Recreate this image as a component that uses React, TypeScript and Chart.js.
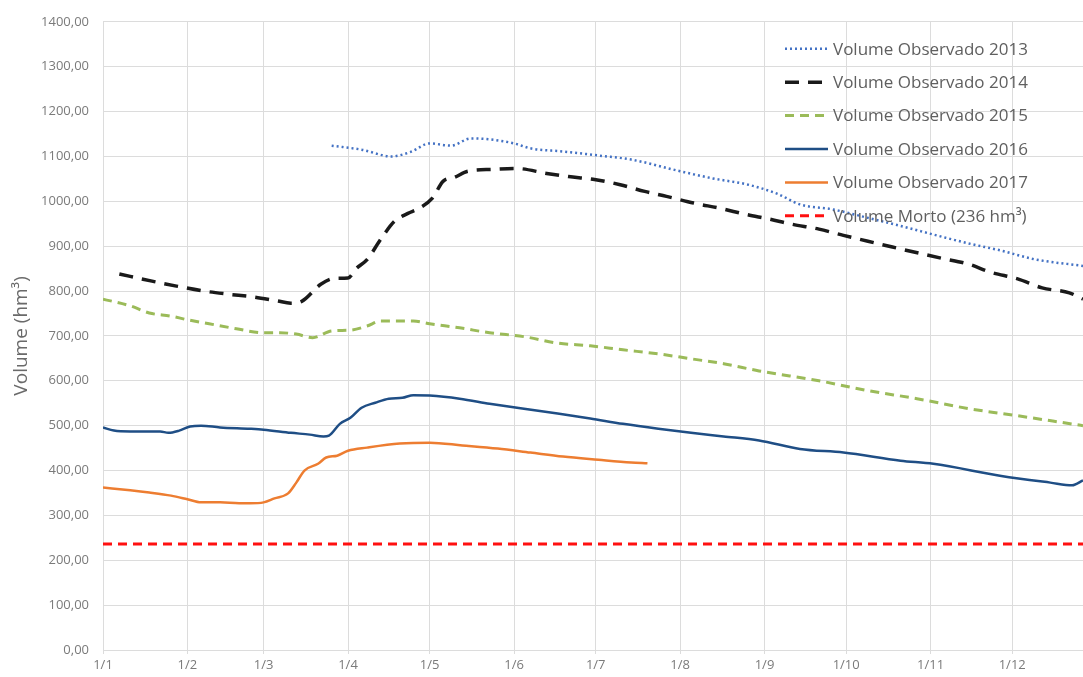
import React, { useEffect, useRef } from 'react';
import { Chart, registerables } from 'chart.js';

Chart.register(...registerables);

// Month-start day-of-year positions and their labels
const monthStartDays = [0, 31, 59, 90, 120, 151, 181, 212, 243, 273, 304, 334];
const monthLabels = ['1/1', '1/2', '1/3', '1/4', '1/5', '1/6', '1/7', '1/8', '1/9', '1/10', '1/11', '1/12'];

// Series (day of year, volume hm³)
const days2013 = [84, 95, 106, 113, 120, 128, 135, 142, 151, 157, 169, 182, 194, 212, 224, 237, 248, 256, 268, 281, 293, 305, 318, 330, 342, 360];
const vol2013 = [1124, 1115, 1100, 1110, 1129, 1124, 1140, 1138, 1129, 1118, 1111, 1102, 1093, 1067, 1051, 1037, 1016, 993, 982, 963, 945, 926, 906, 890, 871, 856];

const days2014 = [6, 18, 27, 37, 46, 55, 64, 69, 73, 80, 85, 90, 93, 97, 102, 107, 112, 116, 121, 125, 129, 134, 143, 152, 163, 171, 180, 190, 199, 207, 217, 227, 236, 245, 253, 263, 272, 281, 290, 300, 308, 318, 326, 336, 345, 355, 360];
const vol2014 = [838, 822, 811, 800, 793, 787, 778, 773, 777, 815, 828, 829, 850, 870, 915, 955, 973, 984, 1007, 1045, 1053, 1067, 1071, 1073, 1062, 1055, 1049, 1037, 1022, 1011, 996, 984, 971, 960, 949, 938, 924, 911, 898, 884, 873, 860, 842, 827, 807, 796, 782];

const days2015 = [0, 10, 17, 25, 31, 39, 49, 59, 65, 71, 77, 84, 91, 97, 102, 114, 120, 131, 142, 155, 167, 179, 191, 204, 216, 228, 241, 263, 281, 299, 318, 336, 360];
const vol2015 = [782, 767, 751, 744, 736, 727, 716, 707, 707, 704, 696, 711, 713, 722, 733, 733, 727, 718, 707, 698, 684, 678, 669, 660, 649, 638, 622, 600, 578, 560, 538, 522, 500];

const days2016 = [0, 4, 10, 21, 24, 28, 32, 36, 43, 54, 59, 69, 76, 81, 83, 87, 91, 95, 100, 105, 110, 114, 120, 131, 142, 154, 167, 179, 191, 204, 216, 228, 241, 256, 272, 293, 305, 330, 348, 356, 360];
const vol2016 = [496, 489, 487, 487, 484, 489, 498, 500, 496, 493, 491, 484, 480, 476, 478, 504, 518, 540, 551, 560, 562, 568, 567, 560, 549, 538, 527, 516, 504, 493, 484, 476, 467, 448, 440, 422, 415, 388, 373, 367, 378];

const days2017 = [0, 10, 17, 25, 31, 36, 43, 50, 54, 59, 63, 68, 71, 74, 79, 82, 86, 90, 97, 109, 120, 132, 145, 157, 169, 182, 194, 200];
const vol2017 = [362, 356, 351, 344, 336, 329, 329, 327, 327, 329, 338, 349, 373, 400, 415, 429, 433, 444, 451, 460, 462, 456, 449, 440, 431, 424, 418, 416];

const daysMorto = [0, 360];
const volMorto = [236, 236];

const seriesLabels = [
  'Volume Observado 2013',
  'Volume Observado 2014',
  'Volume Observado 2015',
  'Volume Observado 2016',
  'Volume Observado 2017',
  'Volume Morto (236 hm³)',
];

const FONT = '"Open Sans", "Noto Sans", sans-serif';

const toPoints = (d: number[], v: number[]) => d.map((x, i) => ({ x, y: v[i] }));

const insideLegend = {
  id: 'insideLegend',
  afterDraw(chart: any) {
    const { ctx, chartArea } = chart;
    const x0 = chartArea.right - 298;
    const y0 = chartArea.top + 27;
    ctx.save();
    chart.data.datasets.forEach((ds: any, i: number) => {
      const y = y0 + i * 33.4;
      ctx.beginPath();
      ctx.setLineDash(ds.borderDash || []);
      ctx.strokeStyle = ds.borderColor;
      ctx.lineWidth = ds.borderWidth;
      ctx.moveTo(x0, y);
      ctx.lineTo(x0 + 43, y);
      ctx.stroke();
      ctx.setLineDash([]);
      ctx.fillStyle = '#5f5f5f';
      ctx.font = '17px ' + FONT;
      ctx.textBaseline = 'middle';
      ctx.textAlign = 'left';
      ctx.fillText(ds.label, x0 + 48, y + 1);
    });
    ctx.restore();
  },
};

export default function App() {
  const canvasRef = useRef<HTMLCanvasElement | null>(null);

  useEffect(() => {
    document.body.style.margin = '0';
    const canvas = canvasRef.current;
    if (!canvas) return;
    const common = { pointRadius: 0, fill: false, cubicInterpolationMode: 'monotone' as const };
    const chart = new Chart(canvas, {
      type: 'line',
      data: {
        datasets: [
          { ...common, label: seriesLabels[0], data: toPoints(days2013, vol2013), borderColor: '#4472C4', borderWidth: 2.5, borderDash: [2, 3] },
          { ...common, label: seriesLabels[1], data: toPoints(days2014, vol2014), borderColor: '#1a1a1a', borderWidth: 3.5, borderDash: [14, 9] },
          { ...common, label: seriesLabels[2], data: toPoints(days2015, vol2015), borderColor: '#9BBB59', borderWidth: 3, borderDash: [9, 6] },
          { ...common, label: seriesLabels[3], data: toPoints(days2016, vol2016), borderColor: '#1F4E85', borderWidth: 2.5 },
          { ...common, label: seriesLabels[4], data: toPoints(days2017, vol2017), borderColor: '#ED7D31', borderWidth: 2.5 },
          { ...common, label: seriesLabels[5], data: toPoints(daysMorto, volMorto), borderColor: '#FF1010', borderWidth: 3, borderDash: [9, 6] },
        ],
      },
      options: {
        animation: false,
        responsive: false,
        maintainAspectRatio: false,
        layout: { padding: { top: 19, right: 0, bottom: 0, left: 0 } },
        plugins: { legend: { display: false }, tooltip: { enabled: false } },
        scales: {
          x: {
            type: 'linear',
            min: 0,
            max: 360,
            afterBuildTicks: (scale: any) => {
              scale.ticks = monthStartDays.map((v) => ({ value: v }));
            },
            afterFit: (scale: any) => {
              scale.height = 27;
            },
            ticks: {
              autoSkip: false,
              maxRotation: 0,
              padding: 3,
              color: '#7a7a7a',
              font: { family: FONT, size: 13 },
              callback: (v: any) => monthLabels[monthStartDays.indexOf(Number(v))] ?? '',
            },
            grid: { color: '#dcdcdc', lineWidth: 1, tickLength: 4 },
            border: { display: false },
          },
          y: {
            min: 0,
            max: 1400,
            afterFit: (scale: any) => {
              scale.width = 103;
            },
            ticks: {
              stepSize: 100,
              padding: 14,
              color: '#7a7a7a',
              font: { family: FONT, size: 13 },
              callback: (v: any) => Number(v).toFixed(2).replace('.', ','),
            },
            grid: { color: '#dcdcdc', lineWidth: 1, drawTicks: false },
            border: { display: false },
            title: {
              display: true,
              text: 'Volume (hm³)',
              color: '#6a6a6a',
              font: { family: FONT, size: 19 },
              padding: { top: 10, bottom: 0 },
            },
          },
        },
      },
      plugins: [insideLegend],
    });
    return () => chart.destroy();
  }, []);

  return (
    <div style={{ width: 1083, height: 677, position: 'relative', background: '#fff' }}>
      <canvas ref={canvasRef} width={1083} height={677} style={{ display: 'block' }} />
    </div>
  );
}
